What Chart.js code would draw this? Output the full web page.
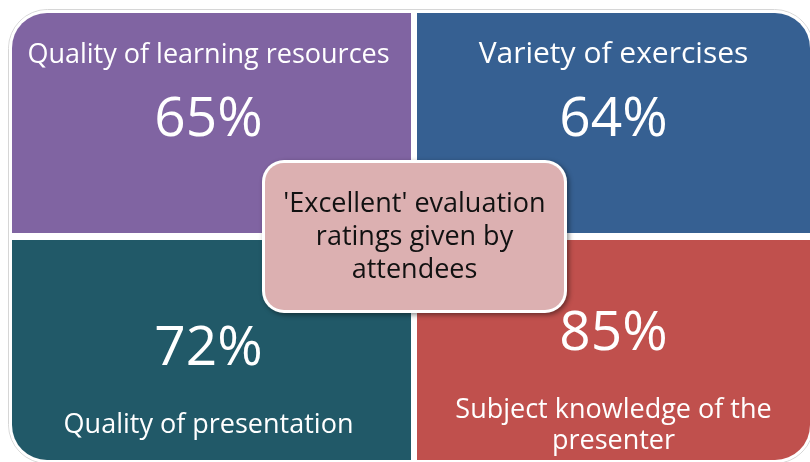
<!DOCTYPE html>
<html>
<head>
<meta charset="utf-8">
<script src="https://cdn.jsdelivr.net/npm/chart.js"></script>
<style>
  html, body { margin: 0; padding: 0; background: #fff; overflow: hidden; }
  #wrap { position: relative; width: 814px; height: 464px; }
</style>
</head>
<body>
<div id="wrap"><canvas id="tiles"></canvas></div>
<script>
// one tile per survey item
const categories = ["Quality of learning resources", "Variety of exercises", "Quality of presentation", "Subject knowledge of the presenter"];
const excellentPct = [65, 64, 72, 85];
const tileColumn = [0, 1, 0, 1];   // 0 = left, 1 = right
const tileRow = [1, 1, 0, 0];      // 1 = top, 0 = bottom
const columns = ["left", "right"];
const centreTitle = ["'Excellent' evaluation", "ratings given by", "attendees"];

const tileColours = ["#8064a2", "#366092", "#215968", "#c0504d"];
const labelSizes = [27, 30, 27, 27];   // each tile's text is auto-fitted in the original
const fontFamily = "'Open Sans'";
const pctFont = "55px " + fontFamily;

function tileBorder(i) {
  const left = tileColumn[i] == 0;
  const top = tileRow[i] == 1;
  return {
    left: left ? 3 : 6,
    right: left ? 0 : 3,
    top: top ? 3 : 3.5,
    bottom: top ? 3.5 : 3
  };
}

function tileRadius(i) {
  const left = tileColumn[i] == 0;
  const top = tileRow[i] == 1;
  const r = 38;
  return {
    topLeft: left && top ? r : 0,
    topRight: !left && top ? r : 0,
    bottomLeft: left && !top ? r : 0,
    bottomRight: !left && !top ? r : 0
  };
}

const datasets = categories.map((name, i) => {
  const data = columns.map(() => null);
  data[tileColumn[i]] = [tileRow[i], tileRow[i] + 1];
  return {
    label: name,
    data: data,
    backgroundColor: tileColours[i],
    borderColor: "#ffffff",
    borderWidth: tileBorder(i),
    borderRadius: tileRadius(i),
    borderSkipped: false,
    inflateAmount: 0,
    grouped: false,
    categoryPercentage: 1,
    barPercentage: 1
  };
});

function wrapLines(ctx, text, maxWidth) {
  const words = text.split(" ");
  const lines = [];
  let line = "";
  words.forEach(w => {
    const test = line ? line + " " + w : w;
    if (ctx.measureText(test).width > maxWidth && line) {
      lines.push(line);
      line = w;
    } else {
      line = test;
    }
  });
  lines.push(line);
  return lines;
}

function roundRect(ctx, x, y, w, h, r) {
  ctx.beginPath();
  ctx.moveTo(x + r, y);
  ctx.arcTo(x + w, y, x + w, y + h, r);
  ctx.arcTo(x + w, y + h, x, y + h, r);
  ctx.arcTo(x, y + h, x, y, r);
  ctx.arcTo(x, y, x + w, y, r);
  ctx.closePath();
}

const tileText = {
  id: "tileText",
  beforeDatasetsDraw(chart) {
    const ctx = chart.ctx;
    const a = chart.chartArea;
    ctx.save();
    roundRect(ctx, a.left - 0.5, a.top - 0.5, a.right - a.left + 1, a.bottom - a.top + 1, 39);
    ctx.strokeStyle = "#d6d6d6";
    ctx.lineWidth = 1;
    ctx.stroke();
    ctx.restore();
  },
  afterDatasetsDraw(chart) {
    const ctx = chart.ctx;
    ctx.save();
    ctx.fillStyle = "#ffffff";
    ctx.textAlign = "center";
    ctx.textBaseline = "alphabetic";
    categories.forEach((name, i) => {
      const bar = chart.getDatasetMeta(i).data[tileColumn[i]];
      const p = bar.getProps(["x", "y", "base", "width"], true);
      const top = Math.min(p.y, p.base) + 3;
      const bottom = Math.max(p.y, p.base) - 3;
      const cx = p.x + (tileColumn[i] == 0 ? -1.5 : 1.5);
      ctx.font = labelSizes[i] + "px " + fontFamily;
      const lines = wrapLines(ctx, name, p.width - 20);
      if (tileRow[i] == 1) {
        lines.forEach((l, k) => ctx.fillText(l, cx, top + 50 + k * 31));
        ctx.font = pctFont;
        ctx.fillText(excellentPct[i] + "%", cx, top + 123);
      } else {
        const first = bottom - 27 - (lines.length - 1) * 31 / 2;
        lines.forEach((l, k) => ctx.fillText(l, cx, first + k * 31));
        ctx.font = pctFont;
        ctx.fillText(excellentPct[i] + "%", cx, first - 68);
      }
    });

    // centre caption box
    const mx = chart.scales.x.getPixelForValue(0.5) + 3.5;
    const my = chart.scales.y.getPixelForValue(1);
    const w = 305, h = 153;
    ctx.shadowColor = "rgba(0,0,0,0.45)";
    ctx.shadowBlur = 5;
    ctx.shadowOffsetX = 2;
    ctx.shadowOffsetY = 2;
    roundRect(ctx, mx - w / 2, my - h / 2, w, h, 22);
    ctx.fillStyle = "#ffffff";
    ctx.fill();
    ctx.shadowColor = "transparent";
    roundRect(ctx, mx - w / 2 + 3, my - h / 2 + 3, w - 6, h - 6, 19);
    ctx.fillStyle = "#dcb0b1";
    ctx.fill();
    ctx.fillStyle = "#111111";
    ctx.font = "27px " + fontFamily;
    centreTitle.forEach((l, k) => ctx.fillText(l, mx, my - 25 + k * 33));
    ctx.restore();
  }
};

new Chart(document.getElementById("tiles"), {
  type: "bar",
  data: { labels: columns, datasets: datasets },
  options: {
    responsive: true,
    maintainAspectRatio: false,
    animation: false,
    layout: { padding: { left: 9, top: 10, right: 1, bottom: 1 } },
    plugins: { legend: { display: false }, tooltip: { enabled: false } },
    scales: {
      x: { display: false, stacked: false },
      y: { display: false, min: 0, max: 2 }
    }
  },
  plugins: [tileText]
});
</script>
</body>
</html>
